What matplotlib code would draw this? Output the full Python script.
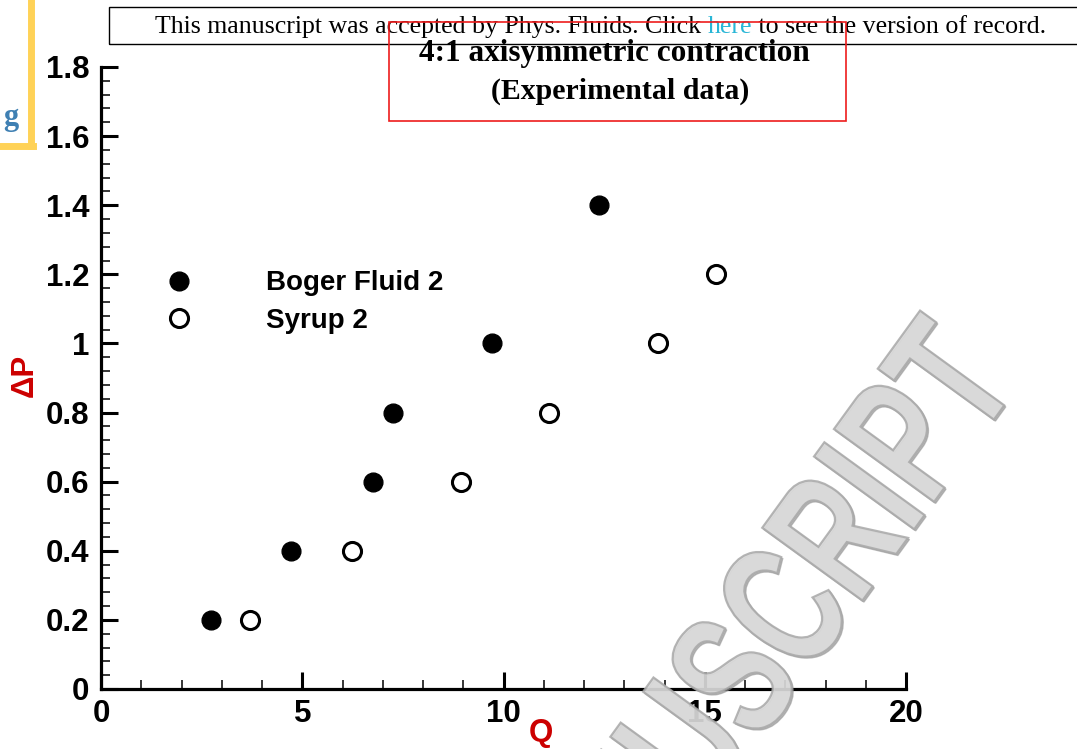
import numpy as np
import matplotlib
matplotlib.use("Agg")
import matplotlib.pyplot as plt
from matplotlib.patches import Rectangle, PathPatch
from matplotlib.textpath import TextPath
from matplotlib.font_manager import FontProperties
from matplotlib.transforms import Affine2D
from matplotlib.ticker import MultipleLocator, FuncFormatter
from matplotlib.lines import Line2D

# data
boger_q = [2.74, 4.71, 6.75, 7.25, 9.71, 12.38]
boger_dp = [0.2, 0.4, 0.6, 0.8, 1.0, 1.4]
syrup_q = [3.71, 6.23, 8.94, 11.13, 13.85, 15.29]
syrup_dp = [0.2, 0.4, 0.6, 0.8, 1.0, 1.2]
series_labels = ["Boger Fluid 2", "Syrup 2"]

W, H = 1077, 749
RED = "#cc0000"
plt.rcParams["font.family"] = ["Liberation Sans", "DejaVu Sans"]
plt.rcParams["font.weight"] = "bold"

fig = plt.figure(figsize=(W / 100, H / 100), dpi=100)
# axes placed in pixels: x 101..906, y 67..689 (top-down)
ax = fig.add_axes([101 / W, (H - 689) / H, 805 / W, 622 / H])

ax.plot(boger_q, boger_dp, "o", ms=13.5, mfc="black", mec="black", mew=1, zorder=3)
ax.plot(syrup_q, syrup_dp, "o", ms=13, mfc="white", mec="black", mew=2.2, zorder=3)

ax.set_xlim(0, 20)
ax.set_ylim(0, 1.8)
for s in ["top", "right"]:
    ax.spines[s].set_visible(False)
for s in ["left", "bottom"]:
    ax.spines[s].set_linewidth(2.3)

ax.xaxis.set_major_locator(MultipleLocator(5))
ax.xaxis.set_minor_locator(MultipleLocator(1))
ax.yaxis.set_major_locator(MultipleLocator(0.2))
ax.yaxis.set_minor_locator(MultipleLocator(0.04))
ax.yaxis.set_major_formatter(FuncFormatter(lambda v, p: "%g" % round(v, 2)))
ax.tick_params(which="major", direction="in", length=12.5, width=2.2, labelsize=22.5)
ax.tick_params(which="minor", direction="in", length=6.5, width=1.1)
ax.tick_params(axis="y", which="major", pad=8.5)
ax.tick_params(axis="x", which="major", pad=7)
for lab in ax.get_xticklabels() + ax.get_yticklabels():
    lab.set_fontweight("bold")

handles = [Line2D([], [], ls="none", marker="o", ms=13.5, mfc="black", mec="black"),
           Line2D([], [], ls="none", marker="o", ms=13, mfc="white", mec="black", mew=2.2)]
ax.legend(handles, series_labels, loc="center left", bbox_to_anchor=(0.062, 0.622),
          frameon=False, borderpad=0, borderaxespad=0, handlelength=2.0,
          handletextpad=2.15, labelspacing=0.42,
          prop=FontProperties(family="Liberation Sans", weight="bold", size=20))

fig.text(541 / W, 1 - 733 / H, "Q", color=RED, fontsize=22.5, fontweight="bold",
         ha="center", va="center")
fig.text(25 / W, 1 - 375 / H, "\u0394P", color=RED, fontsize=22.5, fontweight="bold",
         ha="center", va="center", rotation=90)

# red title box
fig.add_artist(Rectangle((389 / W, 1 - 121 / H), 457 / W, 99 / H, transform=fig.transFigure,
                         fill=False, ec="#ee1c1c", lw=1.2, zorder=5))
fig.text(614 / W, 1 - 54 / H, "4:1 axisymmetric contraction", family="Liberation Serif",
         fontweight="bold", fontsize=22.5, ha="center", va="center")
fig.text(620 / W, 1 - 91 / H, "(Experimental data)", family="Liberation Serif",
         fontweight="bold", fontsize=21.5, ha="center", va="center")

# banner at the top
fig.add_artist(Rectangle((109 / W, 1 - 44 / H), 1000 / W, 37 / H, transform=fig.transFigure,
                         fill=False, ec="black", lw=1.0, zorder=4))
parts = [("This manuscript was accepted by Phys. Fluids. Click ", "black"),
         ("here", "#29b6d6"), (" to see the version of record.", "black")]
renderer = fig.canvas.get_renderer()
x0 = 155
for txt, col in parts:
    t = fig.text(x0 / W, 1 - 27 / H, txt, family="Liberation Serif", fontweight="normal",
                 fontsize=18.6, color=col, ha="left", va="center")
    x0 += t.get_window_extent(renderer).width

# left yellow corner and g
fig.add_artist(Line2D([31 / W, 31 / W], [1, 1 - 146 / H], transform=fig.transFigure,
                      color="#ffd257", lw=5))
fig.add_artist(Line2D([0, 33 / W], [1 - 146 / H, 1 - 146 / H], transform=fig.transFigure,
                      color="#ffd257", lw=5))
fig.text(11 / W, 1 - 118 / H, "g", family="Liberation Serif", fontweight="bold",
         fontsize=22, color="#3f80b3", ha="center", va="center")

# watermark
wm = "ACCEPTED MANUSCRIPT"
tp = TextPath((0, 0), wm, size=1, prop=FontProperties(family="Liberation Sans", weight="bold"))
tcenter = tp.get_extents().x1 - 0.31
sx, sy, ang = 122, 180, 54


def wm_transform(dx, dy):
    return (Affine2D().translate(-tcenter, 0).scale(sx, sy).rotate_deg(ang)
            .translate(998 + dx, H - 414 + dy).scale(1 / W, 1 / H) + fig.transFigure)


fig.add_artist(PathPatch(tp, transform=wm_transform(1.5, -1.5), fc="#8c8c8c", ec="#8c8c8c",
                         lw=1.0, alpha=0.55, zorder=6))
fig.add_artist(PathPatch(tp, transform=wm_transform(0, 0), fc="#dedede", ec="#a8a8a8",
                         lw=1.6, alpha=0.85, zorder=7))

fig.savefig("out.png", dpi=100)
